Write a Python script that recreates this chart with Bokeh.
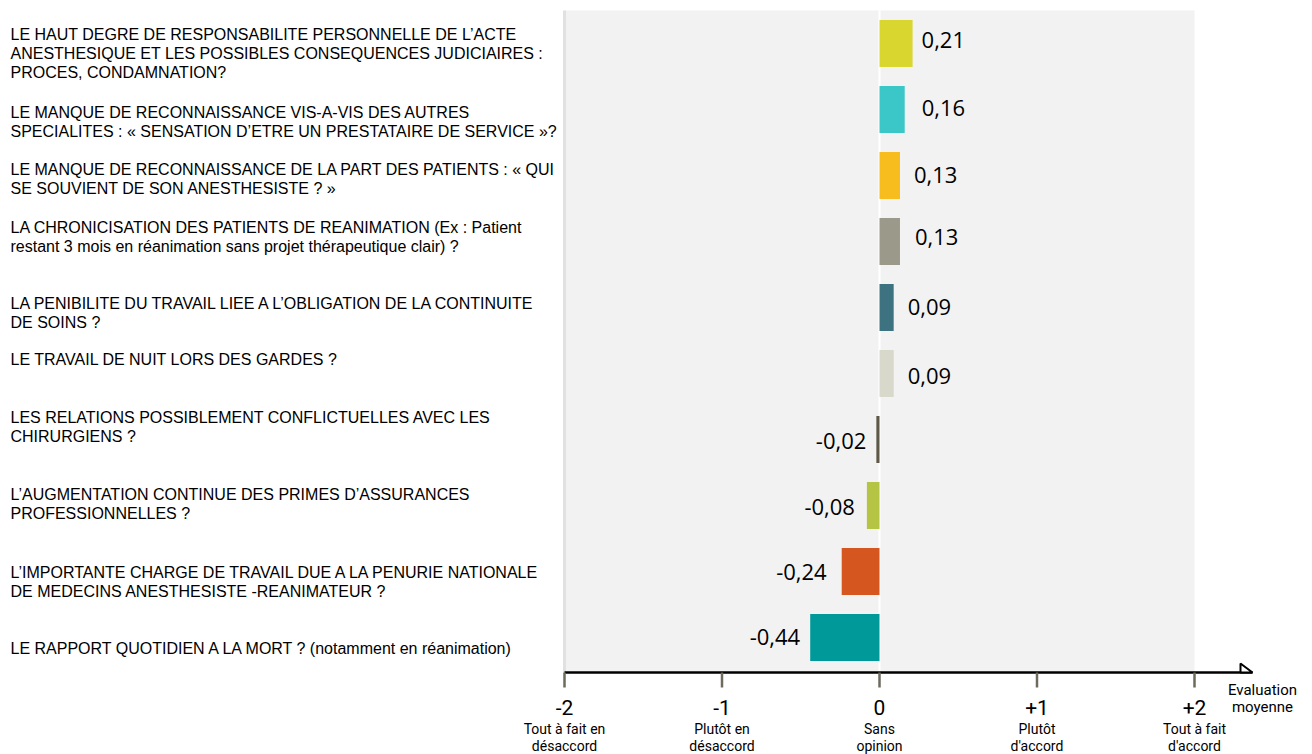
from bokeh.plotting import figure
from bokeh.models import Range1d, ColumnDataSource
from bokeh.embed import file_html
from bokeh.resources import INLINE
from bokeh.core.properties import value

# ---------------- data ----------------
questions = [
    "LE HAUT DEGRE DE RESPONSABILITE PERSONNELLE DE L\u2019ACTE\nANESTHESIQUE ET LES POSSIBLES CONSEQUENCES JUDICIAIRES :\nPROCES, CONDAMNATION?",
    "LE MANQUE DE RECONNAISSANCE VIS-A-VIS DES AUTRES\nSPECIALITES : \u00ab SENSATION D\u2019ETRE UN PRESTATAIRE DE SERVICE \u00bb?",
    "LE MANQUE DE RECONNAISSANCE DE LA PART DES PATIENTS : \u00ab QUI\nSE SOUVIENT DE SON ANESTHESISTE ? \u00bb",
    "LA CHRONICISATION DES PATIENTS DE REANIMATION (Ex : Patient\nrestant 3 mois en r\u00e9animation sans projet th\u00e9rapeutique clair) ?",
    "LA PENIBILITE DU TRAVAIL LIEE A L\u2019OBLIGATION DE LA CONTINUITE\nDE SOINS ?",
    "LE TRAVAIL DE NUIT LORS DES GARDES ?",
    "LES RELATIONS POSSIBLEMENT CONFLICTUELLES AVEC LES\nCHIRURGIENS ?",
    "L\u2019AUGMENTATION CONTINUE DES PRIMES D\u2019ASSURANCES\nPROFESSIONNELLES ?",
    "L\u2019IMPORTANTE CHARGE DE TRAVAIL DUE A LA PENURIE NATIONALE\nDE MEDECINS ANESTHESISTE -REANIMATEUR ?",
    " LE RAPPORT QUOTIDIEN A LA MORT ? (notamment en r\u00e9animation)",
]
scores = [0.21, 0.16, 0.13, 0.13, 0.09, 0.09, -0.02, -0.08, -0.24, -0.44]
bar_colors = ["#d9d62f", "#3bc6c8", "#f7bc1e", "#9b998a", "#3d7281",
              "#d8d8cb", "#5e5849", "#b5c443", "#d6561f", "#00999a"]
tick_values = [-2, -1, 0, 1, 2]
tick_numbers = ["-2", "-1", "0", "+1", "+2"]
tick_captions = ["Tout \u00e0 fait en\nd\u00e9saccord", "Plut\u00f4t en\nd\u00e9saccord",
                 "Sans\nopinion", "Plut\u00f4t\nd'accord", "Tout \u00e0 fait\nd'accord"]
axis_title = "Evaluation\nmoyenne"

# ---------------- layout (pixels) ----------------
W, H = 1310, 754
PX_X = 157.5               # px per unit on x
ZERO_PX = 879              # px of x = 0
ROW_PX = 66.0              # px per row
LAST_ROW_PX = 637          # px of the centre of the last bar
n = len(scores)


def yx(px):                # screen px (from top) -> data y
    return (LAST_ROW_PX - px) / ROW_PX


def xx(px):                # screen px (from left) -> data x
    return (px - ZERO_PX) / PX_X


X_START, X_END = xx(0), xx(W)
Y_TOP, Y_BOTTOM = yx(0), yx(H)
GREY_TOP, AXIS_Y = yx(10), yx(672)
BAR_H = 47 / ROW_PX

# first-line centre offsets (px) of the question texts relative to their bar centre
label_dy_px = [-9, 3, -6, -14, -4, -14, -22, -11, 1, 11]
# offsets (px) of the value texts: horizontal gap to the bar end, vertical shift
value_gap_px = [9, 17, 14, 15, 14, 14, -10, -12, -15, -10]
value_dy_px = [-4, -2, -1, -5, -1, 2, 1, 1, 0, -1]

rows = [n - 1 - i for i in range(n)]
value_text = [f"{v:.2f}".replace(".", ",") for v in scores]

src = ColumnDataSource(dict(
    y=rows, score=scores, color=bar_colors, q=questions, vt=value_text,
    qy=[r - (d - 9) / ROW_PX for r, d in zip(rows, label_dy_px)],
    vy=[r - d / ROW_PX for r, d in zip(rows, value_dy_px)],
    vx_off=value_gap_px,
    valign=["left" if v >= 0 else "right" for v in scores],
))

p = figure(width=W, height=H, x_range=Range1d(X_START, X_END),
           y_range=Range1d(Y_BOTTOM, Y_TOP),
           output_backend="svg", toolbar_location=None,
           x_axis_location=None, y_axis_location=None,
           min_border_left=0, min_border_right=0,
           min_border_top=0, min_border_bottom=0)
p.outline_line_color = None
p.background_fill_color = "white"
p.border_fill_color = "white"
p.xgrid.visible = False
p.ygrid.visible = False

# grey plotting zone
p.quad(left=[tick_values[0]], right=[tick_values[-1]], bottom=[AXIS_Y], top=[GREY_TOP],
       fill_color="#f2f2f2", line_color=None)
p.segment(x0=[tick_values[0]], x1=[tick_values[0]], y0=[AXIS_Y], y1=[GREY_TOP],
          line_color="#e1e1e1", line_width=3)
p.segment(x0=[0], x1=[0], y0=[AXIS_Y], y1=[GREY_TOP], line_color="white", line_width=2)

# bars
p.hbar(y="y", left=0, right="score", height=BAR_H, fill_color="color",
       line_color=None, source=src)

# value labels
p.text(x="score", y="vy", text="vt", x_offset="vx_off", text_align="valign",
       text_baseline="middle", text_font=value("Open Sans"), text_font_size="22px",
       text_color="black", source=src)

# question labels
p.text(x=X_START, y="qy", text="q", x_offset=10, text_align="left",
       text_baseline="top", text_font=value("Liberation Sans"),
       text_font_size="16px", text_line_height=1.12, text_color="black", source=src)

# evaluation axis: line, arrow, ticks, numbers, captions
arrow_end = xx(1252)
p.segment(x0=[tick_values[0]], x1=[arrow_end], y0=[AXIS_Y], y1=[AXIS_Y],
          line_color="black", line_width=2.5)
ah_w, ah_h = 12 / PX_X, 9 / ROW_PX
p.patch(x=[arrow_end - ah_w, arrow_end, arrow_end - ah_w],
        y=[AXIS_Y + ah_h, AXIS_Y, AXIS_Y],
        fill_color="white", line_color="black", line_width=2)
tick_src = ColumnDataSource(dict(x=tick_values, num=tick_numbers, cap=tick_captions))
p.segment(x0="x", x1="x", y0=AXIS_Y, y1=yx(687), line_color="#6e6a5e",
          line_width=2.5, source=tick_src)
p.text(x="x", y=yx(707), text="num", text_align="center", text_baseline="middle",
       text_font=value("Roboto"), text_font_size="21px", text_color="black",
       source=tick_src)
p.text(x="x", y=yx(720), text="cap", text_align="center", text_baseline="top",
       text_font=value("Roboto"), text_font_size="14px", text_line_height=1.08,
       text_color="black", source=tick_src)
p.text(x=[xx(1262)], y=[yx(680)], text=[axis_title], text_align="center",
       text_baseline="top", text_font=value("Roboto"), text_font_size="15px",
       text_line_height=0.96, text_color="black")

open("out.html", "w").write(file_html(p, INLINE))
